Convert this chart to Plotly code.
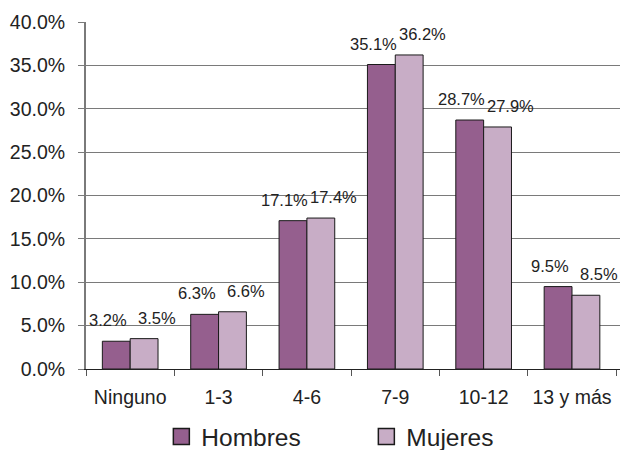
import plotly.graph_objects as go

categories = ["Ninguno", "1-3", "4-6", "7-9", "10-12", "13 y más"]
hombres = [3.2, 6.3, 17.1, 35.1, 28.7, 9.5]
mujeres = [3.5, 6.6, 17.4, 36.2, 27.9, 8.5]
y_ticks = [0, 5, 10, 15, 20, 25, 30, 35, 40]

FONT = "Liberation Sans, Arial, sans-serif"
C_HOM = "#955f8e"
C_MUJ = "#c8adc6"
EDGE = "#1a1a1a"

fig = go.Figure()
fig.add_trace(go.Bar(x=categories, y=hombres, name="Hombres", showlegend=False,
                     marker={"color": C_HOM, "line": {"color": EDGE, "width": 1}}))
fig.add_trace(go.Bar(x=categories, y=mujeres, name="Mujeres", showlegend=False,
                     marker={"color": C_MUJ, "line": {"color": EDGE, "width": 1}}))

# legend-only proxies so the swatches come out as big squares like the original
for name, col in [("Hombres", C_HOM), ("Mujeres", C_MUJ)]:
    fig.add_trace(go.Scatter(x=[None], y=[None], mode="markers", name=name,
                             marker={"symbol": "square", "size": 20, "color": col,
                                     "line": {"color": EDGE, "width": 1.5}}))

# value labels above each bar, nudged like the original
for cat, h, m in zip(categories, hombres, mujeres):
    fig.add_annotation(x=cat, y=h, text=f"{h:.1f}%", showarrow=False,
                       xshift=-22, yshift=21, yanchor="middle",
                       font={"size": 16.5, "color": "#222"})
    fig.add_annotation(x=cat, y=m, text=f"{m:.1f}%", showarrow=False,
                       xshift=27, yshift=21, yanchor="middle",
                       font={"size": 16.5, "color": "#222"})

fig.update_layout(
    width=621, height=450,
    margin={"l": 86, "r": 1, "t": 22, "b": 81},
    paper_bgcolor="white", plot_bgcolor="white",
    font={"family": FONT, "size": 19.5, "color": "#222"},
    barmode="group", bargap=0.37, bargroupgap=0,
    showlegend=True,
    legend={"orientation": "h", "x": 0.525, "xanchor": "center",
            "yref": "container", "y": 0.03, "yanchor": "middle",
            "font": {"size": 24.5}, "entrywidth": 160, "itemsizing": "trace",
            "traceorder": "normal"},
)
fig.update_yaxes(range=[0, 40], tickvals=y_ticks, ticktext=[f"{v:.1f}%" for v in y_ticks],
                 showgrid=True, gridcolor="#7a7a7a", gridwidth=1,
                 showline=True, linecolor="#7a7a7a", linewidth=2,
                 ticks="outside", ticklen=6, tickcolor="#7a7a7a", zeroline=False,
                 ticklabelstandoff=9, automargin=False)
fig.update_xaxes(type="category", showline=True, linecolor="#222", linewidth=1,
                 ticks="outside", ticklen=6, tickcolor="#555", tickson="boundaries",
                 showgrid=False, tickangle=0, ticklabelstandoff=11, automargin=False)

# page default body margin would shift/scale the 621x450 figure
fig.write_html("out.html", config={"displayModeBar": False},
               post_script="document.body.style.margin='0';")
